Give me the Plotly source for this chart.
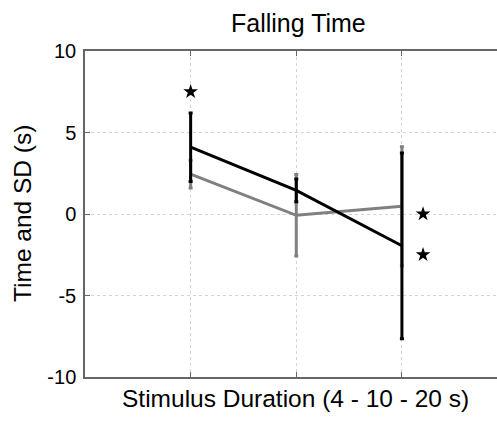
import plotly.graph_objects as go

x_pos = [1, 2, 3]
black_mean = [4.1, 1.45, -1.95]
black_sd = [2.1, 0.7, 5.7]
gray_mean = [2.45, -0.08, 0.48]
gray_sd = [0.85, 2.5, 3.65]
star_x = [1, 3.2, 3.2]
star_y = [7.5, 0, -2.5]
y_ticks = [-10, -5, 0, 5, 10]
y_tick_text = ["-10", "-5", "0", "5", "10"]

L, R, T, B = 85, 497, 51, 377
W, H = 497, 421

def px_x(p):
    return (p - L) / (R - L)

def px_y(p):
    return (B - p) / (B - T)

fig = go.Figure()
fig.add_trace(go.Scatter(
    x=x_pos, y=gray_mean, mode="lines",
    line=dict(color="#808080", width=3),
    error_y=dict(type="data", array=gray_sd, color="#808080", thickness=3, width=2),
    showlegend=False))
fig.add_trace(go.Scatter(
    x=x_pos, y=black_mean, mode="lines",
    line=dict(color="black", width=3),
    error_y=dict(type="data", array=black_sd, color="black", thickness=3, width=2),
    showlegend=False))
fig.add_trace(go.Scatter(
    x=star_x, y=star_y, mode="markers",
    marker=dict(symbol="star", size=11, color="black"),
    showlegend=False))

fig.update_layout(
    width=W, height=H,
    margin=dict(l=L, r=W - R, t=T, b=H - B),
    paper_bgcolor="white", plot_bgcolor="white",
    font=dict(family="Liberation Sans, Arial, sans-serif", size=20, color="black"),
    annotations=[
        dict(text="Falling Time", x=px_x(298), y=px_y(23), xref="paper", yref="paper",
             xanchor="center", yanchor="middle", showarrow=False, font=dict(size=25)),
        dict(text="Stimulus Duration (4 - 10 - 20 s)", x=px_x(295), y=px_y(398),
             xref="paper", yref="paper", xanchor="center", yanchor="middle",
             showarrow=False, font=dict(size=24.5)),
        dict(text="Time and SD (s)", x=px_x(22), y=px_y(214), xref="paper", yref="paper",
             xanchor="center", yanchor="middle", textangle=-90,
             showarrow=False, font=dict(size=24.5)),
    ],
)
fig.update_xaxes(
    range=[0, 3.9], tickvals=x_pos, showticklabels=False,
    ticks="inside", ticklen=5, tickcolor="#666666",
    showline=True, linecolor="#666666", linewidth=1.5, mirror="ticks",
    showgrid=True, gridcolor="#d4d4d4", griddash="3px,3px", gridwidth=1,
    zeroline=False,
)
fig.update_yaxes(
    range=[-10, 10], tickvals=y_ticks, ticktext=y_tick_text,
    ticks="inside", ticklen=5, tickcolor="#666666", ticklabelstandoff=3,
    showline=True, linecolor="#666666", linewidth=1.5,
    showgrid=True, gridcolor="#d4d4d4", griddash="3px,3px", gridwidth=1,
    zeroline=False,
)
fig.write_html("out.html", config={"displayModeBar": False},
               post_script="document.body.style.margin='0px';")
